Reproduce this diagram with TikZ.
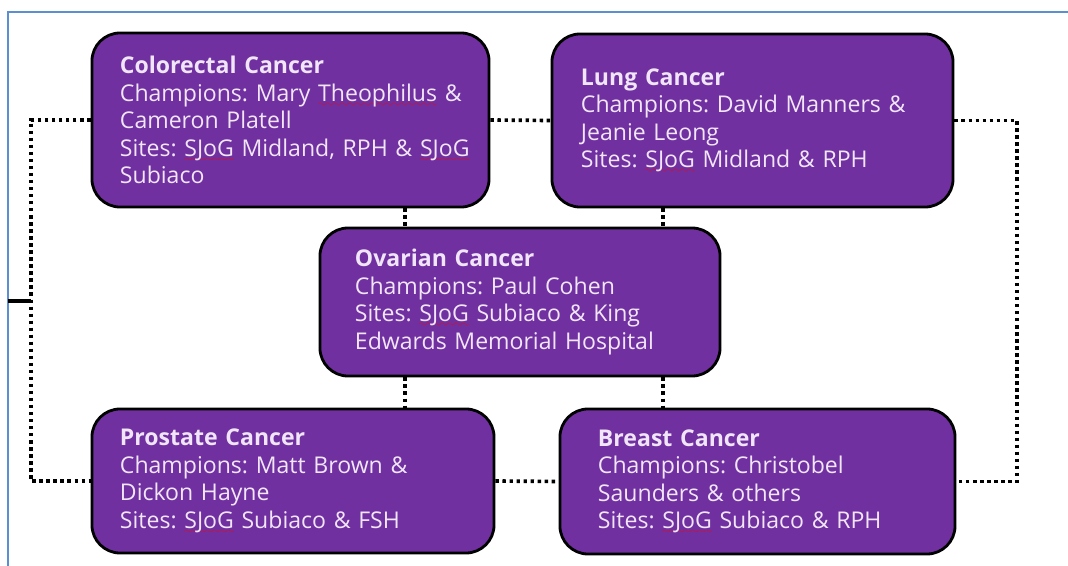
\documentclass[tikz,border=0pt]{standalone}
\usepackage{fontspec}
\setmainfont{Open Sans}
\usetikzlibrary{positioning,calc}
\definecolor{boxpurple}{HTML}{7030A0}
\definecolor{boxtext}{HTML}{F1E6F9}
\definecolor{frameblue}{HTML}{5B8FD0}
\font\wavefont=lasy6
\newcommand\spellmark[1]{\setbox0\hbox{#1}\rlap{\textcolor{red}{\lower3.5pt\hbox to\wd0{\xleaders\hbox{\wavefont\char58}\hfil}}}\box0\relax}
\frenchspacing
\tikzset{
  cancerbox/.style={draw=black, line width=2pt, fill=boxpurple, rounded corners=20pt,
    text=boxtext, align=left, inner sep=0pt,
    font=\fontsize{16.4}{19.6}\selectfont},
  dotline/.style={line width=2.6pt, dash pattern=on 2.4pt off 2.6pt},
}

\begin{document}
\begin{tikzpicture}[x=0.025cm,y=-0.025cm]
            \useasboundingbox (0,0) rectangle (1068,566);
            \draw[frameblue, line width=2pt] (8,566) -- (8,12) -- (1068,12);

            \node[cancerbox, minimum width=9.925cm, minimum height=4.35cm, text width=8.525cm] (colorectal) at (290.5,120)
                {\textbf{Colorectal Cancer}\\\mbox{Champions: Mary \spellmark{Theophilus} \&}\\Cameron Platell\\\mbox{Sites: \spellmark{SJoG} Midland, RPH \& \spellmark{SJoG}}\\Subiaco};
            \node[cancerbox, minimum width=10.025cm, minimum height=4.325cm, text width=8.575cm] (lung) at (752.5,120.5)
                {\textbf{Lung Cancer}\\\mbox{Champions: David Manners \&}\\Jeanie Leong\\Sites: \spellmark{SJoG} Midland \& RPH};
            \node[cancerbox, minimum width=10cm, minimum height=3.7cm, text width=8.25cm] (ovarian) at (520,302)
                {\textbf{Ovarian Cancer}\\Champions: Paul Cohen\\Sites: \spellmark{SJoG} Subiaco \& King\\\mbox{Edwards Memorial Hospital}};
            \node[cancerbox, minimum width=10.05cm, minimum height=3.6cm, text width=8.65cm] (prostate) at (293,481)
                {\textbf{Prostate Cancer}\\Champions: Matt Brown \&\\Dickon Hayne\\Sites: \spellmark{SJoG} Subiaco \& FSH};
            \node[cancerbox, minimum width=9.875cm, minimum height=3.625cm, text width=7.975cm] (breast) at (757.5,481.5)
                {\textbf{Breast Cancer}\\Champions: Christobel\\Saunders \& others\\\mbox{Sites: \spellmark{SJoG} Subiaco \& RPH}};

            % dotted links
            \coordinate (leftlink) at (405,0);
            \coordinate (rightlink) at (663,0);
            \coordinate (loopleft) at (31,0);
            \coordinate (loopright) at (1017,0);
            \draw[dotline] (colorectal.east) -- (lung.west);
            \draw[dotline] (prostate.east) -- (breast.west);
            \draw[dotline] (colorectal.south -| leftlink) -- (ovarian.north -| leftlink);
            \draw[dotline] (lung.south -| rightlink) -- (ovarian.north -| rightlink);
            \draw[dotline] (ovarian.south -| leftlink) -- (prostate.north -| leftlink);
            \draw[dotline] (ovarian.south -| rightlink) -- (breast.north -| rightlink);
            \draw[dotline] (colorectal.west) -- (colorectal.west -| loopleft) -- (prostate.west -| loopleft) -- (prostate.west);
            \draw[dotline] (lung.east) -- (lung.east -| loopright) -- (breast.east -| loopright) -- (breast.east);

            \coordinate (tick) at (8,301);
            \draw[line width=2.4pt] (tick) -- (tick -| loopleft);
        \end{tikzpicture}
\end{document}
